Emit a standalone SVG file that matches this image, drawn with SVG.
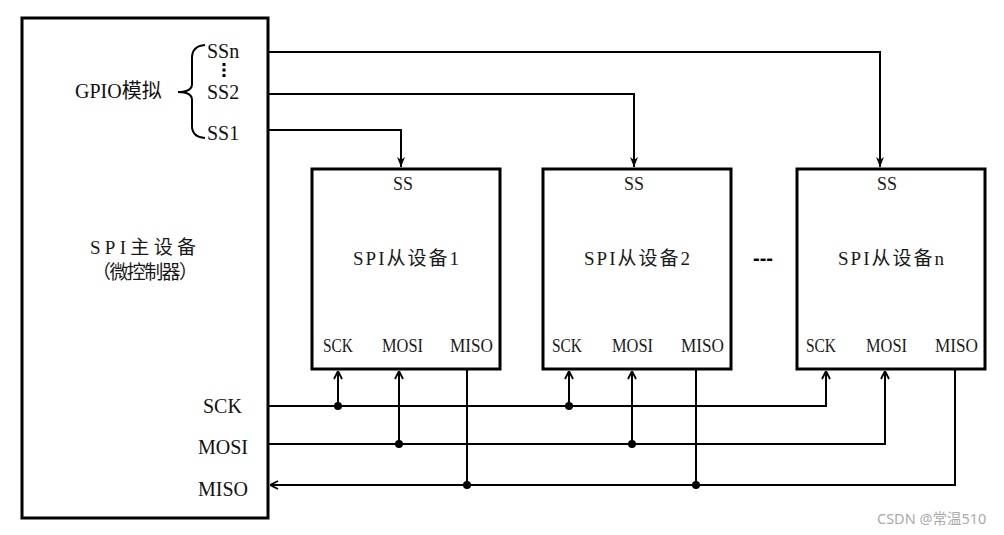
<svg xmlns="http://www.w3.org/2000/svg" width="1004" height="535" viewBox="0 0 1004 535">
<style>
.box{fill:#fff;stroke:#000;stroke-width:3}
.ln{fill:none;stroke:#000;stroke-width:2}
.t{font-family:"Liberation Serif","Noto Sans CJK SC",serif;fill:#111}
.s{font-family:"Liberation Serif","Noto Sans CJK SC",serif;fill:#1a1a1a;font-size:19px}
.c{text-anchor:middle}
.dot{fill:#000}
</style>
<defs>
<marker id="open" viewBox="0 0 10 10" refX="10" refY="5" markerWidth="10" markerHeight="10" markerUnits="userSpaceOnUse" orient="auto">
<path d="M2,1 L10,5 L2,9" fill="none" stroke="#000" stroke-width="1.8"/>
</marker>
<marker id="fill" viewBox="0 0 10 10" refX="10" refY="5" markerWidth="10" markerHeight="10" markerUnits="userSpaceOnUse" orient="auto">
<path d="M0,1 L10,5 L0,9 L3,5 z" fill="#000"/>
</marker>
</defs>
<rect width="1004" height="535" fill="#fff"/>
<g id="master">
<rect class="box" x="22" y="18" width="246" height="500"/>
<text class="t" x="75" y="98" font-size="20">GPIO模拟</text>
<path class="ln" d="M205,45 Q192,46 192,58 L192,84 Q192,92 178,92 Q192,92 192,100 L192,126 Q192,137 205,138"/>
<text class="t" x="207" y="58" font-size="20">SSn</text>
<line x1="224" y1="63" x2="224" y2="79" stroke="#000" stroke-width="3" stroke-dasharray="3,2.5"/>
<text class="t" x="207" y="99" font-size="20">SS2</text>
<text class="t" x="207" y="140" font-size="20">SS1</text>
<text class="s c" x="143" y="254" font-size="20" textLength="106" lengthAdjust="spacing">SPI主设备</text>
<text class="s c" x="145" y="279" font-size="17" textLength="106" lengthAdjust="spacing">（微控制器）</text>
<text class="t" x="203" y="413" font-size="20">SCK</text>
<text class="t" x="198" y="454" font-size="20">MOSI</text>
<text class="t" x="198" y="496" font-size="20">MISO</text>
</g>
<g id="slave1">
<rect class="box" x="312" y="169" width="188" height="200"/>
<text class="s c" x="403" y="190" textLength="20" lengthAdjust="spacingAndGlyphs">SS</text>
<text class="s c" x="406" y="265" textLength="106" lengthAdjust="spacing">SPI从设备1</text>
<text class="s" x="323" y="352" textLength="30" lengthAdjust="spacingAndGlyphs">SCK</text>
<text class="s" x="382" y="352" textLength="41" lengthAdjust="spacingAndGlyphs">MOSI</text>
<text class="s" x="450" y="352" textLength="43" lengthAdjust="spacingAndGlyphs">MISO</text>
</g>
<g id="slave2">
<rect class="box" x="543" y="169" width="188" height="200"/>
<text class="s c" x="634" y="190" textLength="20" lengthAdjust="spacingAndGlyphs">SS</text>
<text class="s c" x="637" y="265" textLength="106" lengthAdjust="spacing">SPI从设备2</text>
<text class="s" x="552" y="352" textLength="30" lengthAdjust="spacingAndGlyphs">SCK</text>
<text class="s" x="612" y="352" textLength="41" lengthAdjust="spacingAndGlyphs">MOSI</text>
<text class="s" x="681" y="352" textLength="43" lengthAdjust="spacingAndGlyphs">MISO</text>
</g>
<g id="ellipsis">
<text x="753" y="265" font-family="Liberation Sans,sans-serif" font-weight="bold" font-size="20" fill="#000">---</text>
</g>
<g id="slaven">
<rect class="box" x="797" y="169" width="188" height="200"/>
<text class="s c" x="887" y="190" textLength="20" lengthAdjust="spacingAndGlyphs">SS</text>
<text class="s c" x="891" y="265" textLength="106" lengthAdjust="spacing">SPI从设备n</text>
<text class="s" x="806" y="352" textLength="30" lengthAdjust="spacingAndGlyphs">SCK</text>
<text class="s" x="866" y="352" textLength="41" lengthAdjust="spacingAndGlyphs">MOSI</text>
<text class="s" x="935" y="352" textLength="43" lengthAdjust="spacingAndGlyphs">MISO</text>
</g>
<g id="connectors">
<polyline class="ln" points="268,52 880,52 880,167" marker-end="url(#fill)"/>
<polyline class="ln" points="268,94 634,94 634,167" marker-end="url(#fill)"/>
<polyline class="ln" points="268,130 401,130 401,167" marker-end="url(#fill)"/>
<polyline class="ln" points="268,406 826,406 826,371" marker-end="url(#open)"/>
<polyline class="ln" points="268,444 885,444 885,371" marker-end="url(#open)"/>
<polyline class="ln" points="955,369 955,485 270,485" marker-end="url(#open)"/>
<line class="ln" x1="338" y1="406" x2="338" y2="371" marker-end="url(#open)"/>
<line class="ln" x1="399" y1="444" x2="399" y2="371" marker-end="url(#open)"/>
<line class="ln" x1="467" y1="369" x2="467" y2="485"/>
<line class="ln" x1="569" y1="406" x2="569" y2="371" marker-end="url(#open)"/>
<line class="ln" x1="632" y1="444" x2="632" y2="371" marker-end="url(#open)"/>
<line class="ln" x1="696" y1="369" x2="696" y2="485"/>
<circle class="dot" cx="338" cy="406" r="4"/>
<circle class="dot" cx="399" cy="444" r="4"/>
<circle class="dot" cx="467" cy="485" r="4"/>
<circle class="dot" cx="569" cy="406" r="4"/>
<circle class="dot" cx="632" cy="444" r="4"/>
<circle class="dot" cx="696" cy="485" r="4"/>
</g>
<text x="877" y="524" font-family="Noto Sans,Noto Sans CJK SC,sans-serif" font-size="14.5" fill="#aaa">CSDN @常温510</text>
</svg>
